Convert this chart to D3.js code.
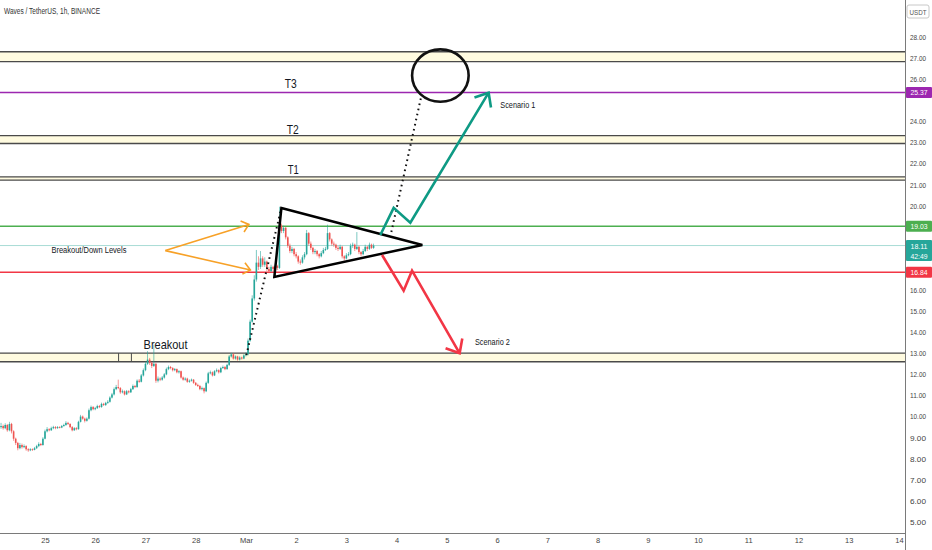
<!DOCTYPE html>
<html>
<head>
<meta charset="utf-8">
<script src="https://cdn.jsdelivr.net/npm/d3@7"></script>
<style>
  body { margin: 0; background: #fff; }
  svg { display: block; font-family: "Liberation Sans", Arial, sans-serif; }
</style>
</head>
<body>
<svg id="chart" width="932" height="550"></svg>
<script>
// WAVES/USDT 1h candles, first candle opens Feb 24 2021 03:00 UTC
const firstOpen = 9.5;
const closes = [
  // Feb 24
  9.55, 9.45, 9.6, 9.35, 9.65, 9.3, 8.95, 8.75, 8.5, 8.65, 8.55, 8.6, 8.45, 8.4, 8.45, 8.42, 8.5, 8.6, 8.7, 8.65, 8.95,
  // Feb 25
  9.3, 9.4, 9.35, 9.45, 9.5, 9.45, 9.5, 9.48, 9.55, 9.6, 9.7, 9.65, 9.5, 9.35, 9.45, 9.4, 9.75, 10.0, 9.9, 9.8, 9.9, 10.3, 10.45, 10.35,
  // Feb 26
  10.4, 10.5, 10.45, 10.6, 10.55, 10.65, 10.7, 10.9, 11.05, 11.3, 11.4, 11.35, 11.15, 11.2, 11.05, 11.2, 11.15, 11.3, 11.45, 11.4, 11.7, 11.65, 11.95, 12.2,
  // Feb 27
  12.5, 12.7, 12.55, 12.4, 12.5, 11.7, 11.8, 11.75, 11.85, 12.0, 12.25, 12.35, 12.3, 12.2, 12.25, 12.1, 12.15, 11.85, 11.75, 11.8, 11.65, 11.7, 11.75, 11.6,
  // Feb 28
  11.5, 11.45, 11.3, 11.35, 11.2, 11.6, 12.05, 12.1, 11.95, 12.15, 12.2, 12.1, 12.3, 12.35, 12.25, 12.45, 12.85, 12.95, 12.75, 12.85, 12.7, 12.8, 12.75, 12.9,
  // Mar 1
  12.95, 13.6, 14.5, 15.6, 16.5, 17.3, 17.1, 17.5, 17.2, 17.35, 17.0, 16.9, 17.1, 17.0, 17.15, 17.05, 19.05, 18.8, 18.95, 18.5, 18.1, 17.85, 17.95, 17.7,
  // Mar 2
  17.6, 17.35, 17.3, 17.55, 17.7, 18.7, 18.2, 18.0, 17.8, 17.85, 17.7, 17.6, 17.75, 17.9, 17.95, 18.7, 18.4, 18.2, 18.15, 18.0, 17.95, 18.05, 17.6, 17.5,
  // Mar 3
  17.65, 17.7, 18.1, 18.15, 17.95, 18.05, 17.8, 17.7, 17.85, 18.05, 17.95, 18.15, 18.0, 18.11
];
const highs = [
  9.7, 9.62, 9.68, 9.65, 9.75, 9.7, 9.35, 9.0, 8.8, 8.75, 8.72, 8.68, 8.64, 8.5, 8.5, 8.49, 8.56, 8.66, 8.78, 8.75, 9.02,
  9.38, 9.5, 9.45, 9.52, 9.56, 9.55, 9.55, 9.54, 9.6, 9.66, 9.78, 9.75, 9.68, 9.55, 9.5, 9.5, 9.8, 10.08, 10.05, 9.95, 9.96, 10.38, 10.52, 10.5,
  10.46, 10.56, 10.55, 10.66, 10.65, 10.7, 10.78, 10.96, 11.12, 11.38, 11.5, 11.75, 11.4, 11.28, 11.24, 11.26, 11.25, 11.36, 11.52, 11.5, 11.76, 11.78, 12.02, 12.28,
  12.6, 13.1, 12.78, 12.6, 13.4, 12.55, 11.9, 11.86, 11.92, 12.06, 12.32, 12.42, 12.4, 12.34, 12.3, 12.28, 12.2, 12.18, 11.9, 11.86, 11.84, 11.76, 11.8, 11.78,
  11.64, 11.56, 11.5, 11.42, 11.38, 11.66, 12.12, 12.18, 12.14, 12.2, 12.28, 12.24, 12.36, 12.42, 12.4, 12.5, 12.92, 13.02, 13.0, 12.9, 12.88, 12.86, 12.84, 12.96,
  13.05, 13.7, 14.6, 15.75, 16.7, 17.9, 17.6, 17.85, 17.6, 17.55, 17.4, 17.1, 17.2, 17.15, 17.25, 17.2, 19.95, 19.15, 19.05, 19.0, 18.55, 18.2, 18.05, 18.0,
  17.8, 17.65, 17.45, 17.65, 17.8, 18.85, 18.75, 18.3, 18.05, 17.95, 17.9, 17.75, 17.85, 18.0, 18.05, 19.1, 18.75, 18.45, 18.3, 18.2, 18.1, 18.15, 18.1, 17.65,
  17.75, 17.8, 18.2, 18.25, 18.2, 18.75, 18.1, 17.85, 17.95, 18.15, 18.1, 18.25, 18.2, 18.2
];
const lows = [
  9.42, 9.38, 9.4, 9.28, 9.3, 9.2, 8.85, 8.65, 8.4, 8.45, 8.48, 8.5, 8.38, 8.33, 8.36, 8.37, 8.4, 8.46, 8.55, 8.6, 8.62,
  8.92, 9.25, 9.3, 9.32, 9.4, 9.4, 9.42, 9.44, 9.45, 9.52, 9.56, 9.6, 9.45, 9.3, 9.32, 9.35, 9.38, 9.72, 9.85, 9.72, 9.76, 9.86, 10.25, 10.3,
  10.3, 10.36, 10.4, 10.42, 10.5, 10.5, 10.6, 10.66, 10.86, 11.0, 11.25, 11.3, 11.08, 11.1, 11.0, 11.02, 11.1, 11.12, 11.26, 11.35, 11.36, 11.6, 11.62, 11.9,
  12.15, 12.45, 12.45, 12.3, 12.35, 11.6, 11.62, 11.68, 11.7, 11.8, 11.96, 12.2, 12.24, 12.14, 12.15, 12.05, 12.04, 11.8, 11.7, 11.7, 11.6, 11.6, 11.66, 11.55,
  11.45, 11.4, 11.25, 11.24, 11.1, 11.16, 11.55, 12.0, 11.9, 11.92, 12.1, 12.04, 12.06, 12.26, 12.2, 12.22, 12.4, 12.8, 12.7, 12.7, 12.65, 12.66, 12.7, 12.72,
  12.85, 12.9, 13.55, 14.45, 15.5, 16.4, 16.95, 17.0, 17.1, 17.1, 16.9, 16.8, 16.85, 16.9, 16.65, 16.95, 17.0, 18.7, 18.7, 18.4, 18.0, 17.75, 17.75, 17.6,
  17.5, 17.25, 17.2, 17.25, 17.45, 17.65, 18.1, 17.9, 17.7, 17.7, 17.6, 17.5, 17.55, 17.7, 17.85, 17.9, 18.3, 18.1, 18.05, 17.9, 17.85, 17.9, 17.5, 17.4,
  17.45, 17.6, 17.65, 18.0, 17.85, 17.9, 17.7, 17.6, 17.65, 17.8, 17.85, 17.9, 17.95, 17.95
];

const priceTicks = [5, 6, 7, 8, 9, 10, 11, 12, 13, 14, 15, 16, 17, 18, 19, 20, 21, 22, 23, 24, 25, 26, 27, 28, 29];
const dayTicks = ["2021-02-25", "2021-02-26", "2021-02-27", "2021-02-28", "2021-03-01", "2021-03-02", "2021-03-03",
  "2021-03-04", "2021-03-05", "2021-03-06", "2021-03-07", "2021-03-08", "2021-03-09", "2021-03-10", "2021-03-11",
  "2021-03-12", "2021-03-13", "2021-03-14"];

// target / breakout zones (upper, lower price)
const zones = [[27.3, 26.83], [23.32, 22.95], [21.37, 21.21], [13.01, 12.6]];
const levelPrices = [25.37, 19.03, 16.84];
const lastPrice = 18.11;
const countdown = "42:49";

// drawings, [days from Mar 1 00:00 UTC, price]
const triangle = [[0.706, 19.89], [3.512, 18.14], [0.566, 16.62]];
const dottedMoves = [[[0.009, 12.92], [0.706, 19.89]], [[2.895, 18.75], [3.492, 25.2]]];
const scenarioUp = [[2.676, 18.61], [2.941, 19.9], [3.273, 19.19], [4.832, 25.36]];
const scenarioDown = [[2.71, 17.66], [3.14, 15.97], [3.307, 16.92], [4.255, 13.0]];
const orangeArrows = [[[-1.604, 17.87], [0.059, 19.11]], [[-1.604, 17.87], [0.089, 16.95]]];
const targetCircle = [3.871, 26.17, 0.563, 1.242];
const labels = [
  { text: "T3", at: [0.89, 25.77], size: 12, len: 12 },
  { text: "T2", at: [0.93, 23.59], size: 12, len: 12 },
  { text: "T1", at: [0.944, 21.69], size: 12, len: 11 },
  { text: "Breakout", at: [-1.6, 13.44], size: 13, len: 44 },
  { text: "Breakout/Down Levels", at: [-3.125, 17.9], size: 8.5, len: 75 },
  { text: "Scenario 1", at: [5.413, 24.78], size: 8.5, len: 35 },
  { text: "Scenario 2", at: [4.907, 13.54], size: 8.5, len: 35 }
];

const W = 905, H = 533;
const svg = d3.select("#chart");
const x = d3.scaleUtc()
  .domain([new Date(Date.UTC(2021, 1, 24, 2, 30)), new Date(Date.UTC(2021, 2, 14, 2, 54))])
  .range([0, W]);
const y = d3.scaleLinear().domain([4.478, 29.755]).range([H, 0]);

const mar1 = Date.UTC(2021, 2, 1);
const at = d => new Date(mar1 + d * 864e5);
const px = p => [x(at(p[0])), y(p[1])];

svg.append("defs").append("clipPath").attr("id", "plot")
  .append("rect").attr("width", W).attr("height", H);
const plot = svg.append("g").attr("clip-path", "url(#plot)");

// zones
zones.forEach(([hi, lo]) => {
  plot.append("rect").attr("x", 0).attr("width", W)
    .attr("y", y(hi)).attr("height", y(lo) - y(hi)).attr("fill", "#fffbe0");
  [hi, lo].forEach(p => plot.append("line").attr("x1", 0).attr("x2", W)
    .attr("y1", y(p)).attr("y2", y(p)).attr("stroke", "#4a4a4a").attr("stroke-width", 1.3));
});
// small box edges in breakout zone
[-2.535, -2.28].forEach(d => plot.append("line")
  .attr("x1", x(at(d))).attr("x2", x(at(d))).attr("y1", y(zones[3][0])).attr("y2", y(zones[3][1]))
  .attr("stroke", "#4a4a4a").attr("stroke-width", 1));

const levelColors = ["#9c27b0", "#4caf50", "#f23645"];
levelPrices.forEach((p, i) => plot.append("line").attr("x1", 0).attr("x2", W)
  .attr("y1", y(p)).attr("y2", y(p)).attr("stroke", levelColors[i]).attr("stroke-width", 1.5));
plot.append("line").attr("x1", 0).attr("x2", W).attr("y1", y(lastPrice)).attr("y2", y(lastPrice))
  .attr("stroke", "#a8dcd6").attr("stroke-width", 1);

// candles
const candles = closes.map((c, i) => ({
  t: new Date(Date.UTC(2021, 1, 24, 3) + i * 36e5),
  o: i === 0 ? firstOpen : closes[i - 1], c, h: highs[i], l: lows[i]
}));
const up = "#26a69a", down = "#ef5350";
const cg = plot.append("g");
cg.selectAll("line").data(candles).join("line")
  .attr("x1", d => x(d.t)).attr("x2", d => x(d.t))
  .attr("y1", d => y(d.h)).attr("y2", d => y(d.l))
  .attr("stroke", d => d.c >= d.o ? up : down).attr("stroke-width", 0.8).attr("opacity", 0.75);
cg.selectAll("rect").data(candles).join("rect")
  .attr("x", d => x(d.t) - 0.8).attr("width", 1.6)
  .attr("y", d => y(Math.max(d.o, d.c)))
  .attr("height", d => Math.max(0.8, Math.abs(y(d.o) - y(d.c))))
  .attr("fill", d => d.c >= d.o ? up : down);

// drawings
const line = d3.line();
function arrowHead(g, tip, from, len, color, width) {
  const a = Math.atan2(from[1] - tip[1], from[0] - tip[0]);
  const s = 40 * Math.PI / 180;
  const pts = [[tip[0] + len * Math.cos(a + s), tip[1] + len * Math.sin(a + s)], tip,
               [tip[0] + len * Math.cos(a - s), tip[1] + len * Math.sin(a - s)]];
  g.append("path").attr("d", line(pts)).attr("fill", "none").attr("stroke", color)
    .attr("stroke-width", width).attr("stroke-linejoin", "miter");
}

dottedMoves.forEach(seg => plot.append("path").attr("d", line(seg.map(px)))
  .attr("stroke", "#111").attr("stroke-width", 2).attr("stroke-dasharray", "1.6,3.6").attr("fill", "none"));

plot.append("path").attr("d", line(triangle.map(px)) + "Z")
  .attr("fill", "none").attr("stroke", "#000").attr("stroke-width", 2.5).attr("stroke-linejoin", "miter");

[[scenarioUp, "#0e9a84"], [scenarioDown, "#f23645"]].forEach(([pts, col]) => {
  const p = pts.map(px);
  plot.append("path").attr("d", line(p)).attr("fill", "none").attr("stroke", col)
    .attr("stroke-width", 2.6).attr("stroke-linejoin", "miter");
  arrowHead(plot, p[p.length - 1], p[p.length - 2], 15, col, 2.6);
});

orangeArrows.forEach(seg => {
  const p = seg.map(px);
  plot.append("path").attr("d", line(p)).attr("fill", "none").attr("stroke", "#f7a127").attr("stroke-width", 1.6);
  arrowHead(plot, p[1], p[0], 9, "#f7a127", 1.6);
});

const [cd, cp, crd, crp] = targetCircle;
plot.append("ellipse")
  .attr("cx", x(at(cd))).attr("cy", y(cp))
  .attr("rx", x(at(cd + crd)) - x(at(cd))).attr("ry", y(cp - crp) - y(cp))
  .attr("fill", "none").attr("stroke", "#111").attr("stroke-width", 2.6);

labels.forEach(l => {
  const [lx, ly] = px(l.at);
  plot.append("text").attr("x", lx - l.len / 2).attr("y", ly).attr("dy", "0.35em")
    .attr("font-size", l.size).attr("textLength", l.len).attr("lengthAdjust", "spacingAndGlyphs")
    .attr("fill", "#131722").text(l.text);
});

// axes
svg.append("line").attr("x1", W + 0.5).attr("x2", W + 0.5).attr("y1", 0).attr("y2", 550)
  .attr("stroke", "#7a7a7a").attr("stroke-width", 1);
svg.append("line").attr("x1", 0).attr("x2", W).attr("y1", H + 0.5).attr("y2", H + 0.5)
  .attr("stroke", "#7a7a7a").attr("stroke-width", 1);

// price labels hidden behind the badges are left out
const covered = [[25.37, 8.5, 8.5], [19.03, 8, 8], [18.11, 8, 16], [16.84, 8, 8], [29.2, 10, 10]];
const shownTicks = priceTicks.filter(t => !covered.some(([p, above, below]) =>
  y(t) > y(p) - above && y(t) < y(p) + below));

const yAxis = svg.append("g").attr("transform", `translate(${W},0)`)
  .call(d3.axisRight(y).tickValues(shownTicks).tickSize(0).tickPadding(5).tickFormat(d3.format(".2f")));
yAxis.select(".domain").remove();
yAxis.selectAll("text").attr("font-size", 7.5).attr("fill", "#444").attr("font-family", null)
  .attr("textLength", 16).attr("lengthAdjust", "spacingAndGlyphs");

const fmtDay = d => d.getUTCDate() === 1 ? "Mar" : String(d.getUTCDate());
const xAxis = svg.append("g").attr("transform", `translate(0,${H})`)
  .call(d3.axisBottom(x).tickValues(dayTicks.map(s => new Date(s + "T00:00:00Z")))
    .tickSize(0).tickPadding(5).tickFormat(fmtDay));
xAxis.select(".domain").remove();
xAxis.selectAll("text").attr("font-size", 7.5).attr("fill", "#444").attr("font-family", null);

// price badges
function badge(p, color, lines) {
  const h = lines.length > 1 ? 21 : 11;
  const g = svg.append("g");
  g.append("rect").attr("x", W + 1).attr("y", y(p) - 5.5).attr("width", 26).attr("height", h)
    .attr("fill", color).attr("rx", 1);
  lines.forEach((t, i) => g.append("text").attr("x", W + 14).attr("y", y(p) + 3 + i * 10)
    .attr("text-anchor", "middle").attr("font-size", 7.5).attr("fill", "#fff")
    .attr("textLength", 17).attr("lengthAdjust", "spacingAndGlyphs").text(t));
}
badge(levelPrices[0], "#9c27b0", [levelPrices[0].toFixed(2)]);
badge(levelPrices[1], "#4caf50", [levelPrices[1].toFixed(2)]);
badge(lastPrice, "#26a69a", [lastPrice.toFixed(2), countdown]);
badge(levelPrices[2], "#f23645", [levelPrices[2].toFixed(2)]);

// currency tag
svg.append("rect").attr("x", W + 2).attr("y", 5).attr("width", 22).attr("height", 13)
  .attr("fill", "#fff").attr("stroke", "#c8c8c8").attr("rx", 2);
svg.append("text").attr("x", W + 13).attr("y", 14.5).attr("text-anchor", "middle")
  .attr("font-size", 7).attr("fill", "#555").attr("textLength", 17)
  .attr("lengthAdjust", "spacingAndGlyphs").text("USDT");

// title
svg.append("text").attr("x", 4).attr("y", 14).attr("font-size", 8.5).attr("fill", "#333")
  .attr("textLength", 96).attr("lengthAdjust", "spacingAndGlyphs")
  .text("Waves / TetherUS, 1h, BINANCE");
</script>
</body>
</html>
